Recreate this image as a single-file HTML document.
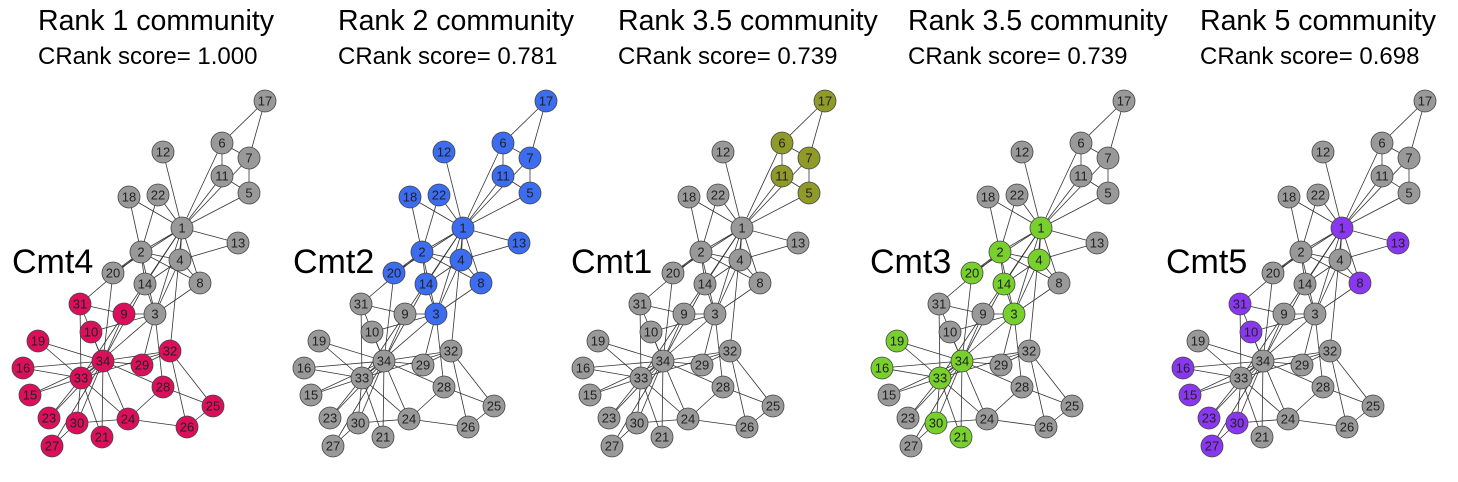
<!DOCTYPE html>
<html><head><meta charset="utf-8"><style>
html,body{margin:0;padding:0;background:#fff;}
svg{display:block;font-family:"Liberation Sans",sans-serif;}
</style></head><body>
<svg id="chart" width="1458" height="482" viewBox="0 0 1458 482"></svg>
<script>
const nodeIds=[1,2,3,4,5,6,7,8,9,10,11,12,13,14,15,16,17,18,19,20,21,22,23,24,25,26,27,28,29,30,31,32,33,34];
const nodeX=[182,141,155,180,249,222,249,200,124,91,222,163,238,145,30,23,265,129,38,113,102,158,49,128,213,187,52,163,142,77,80,170,81,103];
const nodeY=[228,252,314,260,193,143,158,283,314,332,176,152,243,284,395,368,101,197,341,273,437,195,418,419,406,427,446,387,365,423,304,351,378,361];
const edges=[[1,2],[1,3],[1,4],[1,5],[1,6],[1,7],[1,8],[1,9],[1,11],[1,12],[1,13],[1,14],[1,18],[1,20],[1,22],[1,32],
[2,3],[2,4],[2,8],[2,14],[2,18],[2,20],[2,22],[2,31],[3,4],[3,8],[3,9],[3,10],[3,14],[3,28],[3,29],[3,33],
[4,8],[4,13],[4,14],[5,7],[5,11],[6,7],[6,11],[6,17],[7,17],[9,31],[9,33],[9,34],[10,34],[14,34],[15,33],[15,34],
[16,33],[16,34],[19,33],[19,34],[20,34],[21,33],[21,34],[23,33],[23,34],[24,26],[24,28],[24,30],[24,33],[24,34],
[25,26],[25,28],[25,32],[26,32],[27,30],[27,34],[28,34],[29,32],[29,34],[30,33],[30,34],[31,33],[31,34],[32,33],[32,34],[33,34]];
const panelTitles=["Rank 1 community","Rank 2 community","Rank 3.5 community","Rank 3.5 community","Rank 5 community"];
const panelScores=["1.000","0.781","0.739","0.739","0.698"];
const panelLabels=["Cmt4","Cmt2","Cmt1","Cmt3","Cmt5"];
const panelColors=["#dc0f5c","#3c6cf0","#8f9a28","#78d02c","#8a38f0"];
const panelMembers=[[9,10,15,16,19,21,23,24,25,26,27,28,29,30,31,32,33,34],
[1,2,3,4,5,6,7,8,11,12,13,14,17,18,20,22],[5,6,7,11,17],
[1,2,3,4,14,16,19,20,21,30,33,34],[1,8,10,13,15,16,23,27,30,31]];
const panelOffsets=[0,281,560,859,1160];
const titleX=[38,338,618,908,1200];
const labelX=[12,293,571,870,1166];

const NS="http://www.w3.org/2000/svg";
const svg=document.getElementById('chart');
function mk(tag,attrs,parent){const e=document.createElementNS(NS,tag);for(const k in attrs)e.setAttribute(k,attrs[k]);(parent||svg).appendChild(e);return e;}
for(let p=0;p<5;p++){
  const g=mk('g',{});
  
  
  const t=mk('text',{x:titleX[p],y:30,'font-size':28.5,fill:'#000'},g);
  t.textContent=panelTitles[p];
  
  
  const s=mk('text',{x:titleX[p],y:64,'font-size':24,fill:'#000'},g);
  s.textContent='CRank score= '+panelScores[p];
  
  
  const l=mk('text',{x:labelX[p],y:273,'font-size':34,fill:'#000'},g);
  l.textContent=panelLabels[p];
  
  
  const off=panelOffsets[p];
  edges.forEach(e=>{
    const a=e[0]-1,b=e[1]-1;
    const ln=mk('line',{x1:nodeX[a]+off,y1:nodeY[a],x2:nodeX[b]+off,y2:nodeY[b],stroke:'#333','stroke-width':0.8},g);
    
    
  });
  nodeIds.forEach((id,i)=>{
    const inC=panelMembers[p].includes(id);
    const c=mk('circle',{cx:nodeX[i]+off,cy:nodeY[i],r:11,fill:inC?panelColors[p]:'#999999',stroke:'#444','stroke-width':0.8},g);
    
    
    const tx=mk('text',{x:nodeX[i]+off,y:nodeY[i]+4.5,'font-size':13,'text-anchor':'middle',fill:'#222'},g);
    tx.textContent=id;
    
    
  });
}
</script>
</body></html>
